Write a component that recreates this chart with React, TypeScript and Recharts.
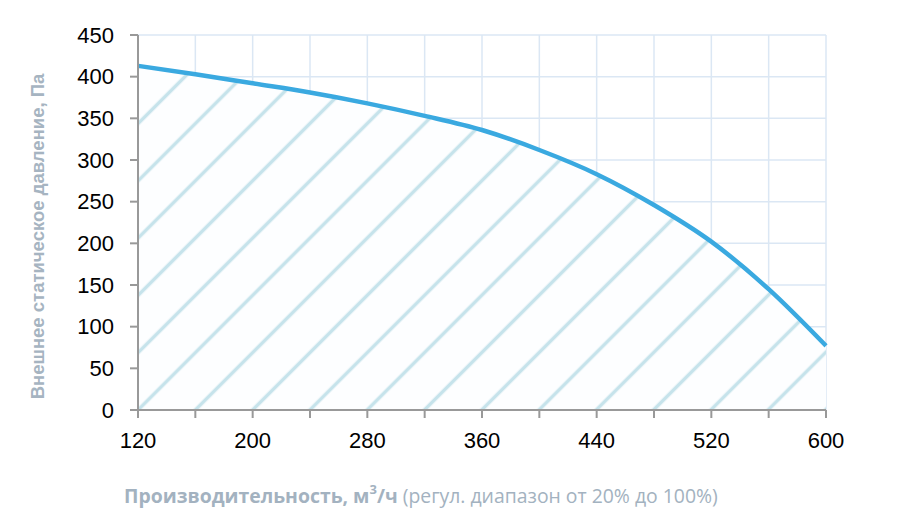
import { ComposedChart, Area, XAxis, YAxis, CartesianGrid } from 'recharts';

// расход воздуха, м3/ч
const airflow = [120, 160, 200, 240, 280, 320, 360, 400, 440, 480, 520, 560, 600];
// внешнее статическое давление, Па
const pressure = [413, 403, 392, 381, 368, 353, 336, 312, 283, 246, 202, 145, 77];

const xTicks = [120, 160, 200, 240, 280, 320, 360, 400, 440, 480, 520, 560, 600];
const yTicks = [0, 50, 100, 150, 200, 250, 300, 350, 400, 450];

const data = airflow.map((q, i) => ({ q, p: pressure[i] }));

const tickFont = { fill: '#000', fontSize: 22, fontFamily: '"Liberation Sans", Arial, sans-serif' };

const XLabel = (props: any) => {
  const vb = props.viewBox;
  return (
    <text
      x={vb.x - 14}
      y={vb.y + 93}
      fill="#a3b2c0"
      fontSize={19.4}
      fontFamily='"Open Sans", sans-serif'
    >
      <tspan fontWeight="bold">Производительность, м</tspan>
      <tspan fontWeight="bold" dy={-9} fontSize={13}>3</tspan>
      <tspan fontWeight="bold" dy={9}>/ч</tspan>
      <tspan> (регул. диапазон от 20% до 100%)</tspan>
    </text>
  );
};

const YLabel = (props: any) => {
  const vb = props.viewBox;
  const cx = 29;
  const cy = vb.y + vb.height / 2 + 14;
  return (
    <text
      x={cx}
      y={cy}
      transform={`rotate(-90 ${cx} ${cy})`}
      textAnchor="middle"
      dominantBaseline="central"
      fill="#a6b4c1"
      fontSize={18.5}
      fontWeight="bold"
      fontFamily='"Liberation Sans", Arial, sans-serif'
    >
      Внешнее статическое давление, Па
    </text>
  );
};

export default function App() {
  return (
    <ComposedChart
      width={904}
      height={518}
      data={data}
      margin={{ top: 27, right: 86, left: 70, bottom: 56 }}
    >
      <defs>
        <pattern
          id="hatch"
          patternUnits="userSpaceOnUse"
          width={40.5}
          height={40.5}
          patternTransform="translate(130,402) rotate(45) translate(-20.25,0)"
        >
          <rect width={40.5} height={40.5} fill="#fdfeff" />
          <line x1={20.25} y1={0} x2={20.25} y2={40.5} stroke="#c6e3eb" strokeWidth={3.5} />
        </pattern>
      </defs>
      <CartesianGrid stroke="#dbe7f4" strokeWidth={1.5} />
      <XAxis
        dataKey="q"
        type="number"
        domain={[120, 600]}
        ticks={xTicks}
        interval={0}
        tickFormatter={(v: number) => ((v - 120) % 80 === 0 ? String(v) : '')}
        tick={tickFont}
        tickSize={8}
        tickMargin={14}
        height={60}
        axisLine={{ stroke: '#999', strokeWidth: 2 }}
        tickLine={{ stroke: '#999', strokeWidth: 2 }}
        label={<XLabel />}
      />
      <YAxis
        domain={[0, 450]}
        ticks={yTicks}
        interval={0}
        tick={tickFont}
        tickSize={8}
        tickMargin={16}
        width={60}
        axisLine={{ stroke: '#999', strokeWidth: 2 }}
        tickLine={{ stroke: '#999', strokeWidth: 2 }}
        label={<YLabel />}
      />
      <Area
        type="monotone"
        dataKey="p"
        stroke="#3aa9e0"
        strokeWidth={4.5}
        fill="url(#hatch)"
        fillOpacity={1}
        isAnimationActive={false}
      />
    </ComposedChart>
  );
}
